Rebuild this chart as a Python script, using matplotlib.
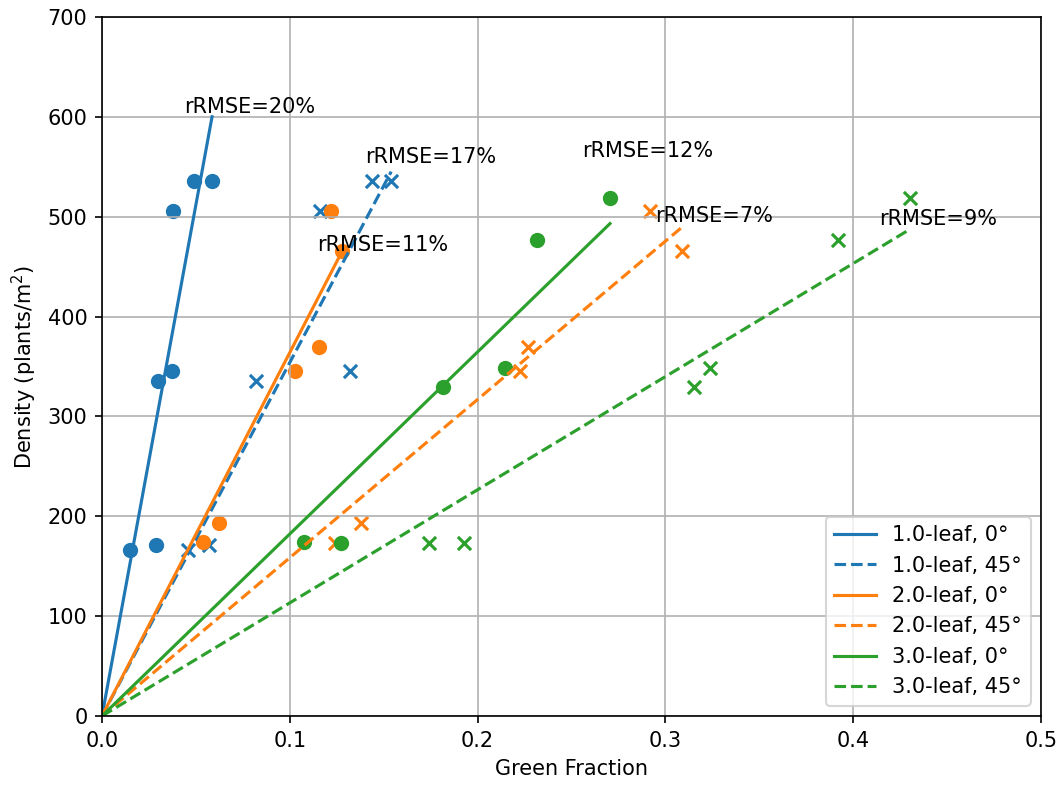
import matplotlib
matplotlib.use('Agg')
import matplotlib.pyplot as plt
import numpy as np

# green fraction / density measurements, per leaf stage and view angle
gf_1_0 = [0.0149, 0.0288, 0.0298, 0.0373, 0.0378, 0.049, 0.0586]
den_1_0 = [166, 171, 335, 345, 506, 536, 536]
gf_1_45 = [0.0458, 0.057, 0.082, 0.132, 0.116, 0.144, 0.154]
den_1_45 = [166, 171, 335, 345, 506, 536, 536]

gf_2_0 = [0.054, 0.0623, 0.103, 0.1155, 0.122, 0.128]
den_2_0 = [174, 193, 345, 370, 506, 466]
gf_2_45 = [0.124, 0.138, 0.2226, 0.227, 0.292, 0.309]
den_2_45 = [173, 193, 345, 370, 506, 466]

gf_3_0 = [0.1076, 0.127, 0.1816, 0.2146, 0.2316, 0.2705]
den_3_0 = [174, 173, 329, 348, 477, 519]
gf_3_45 = [0.174, 0.193, 0.315, 0.324, 0.392, 0.43]
den_3_45 = [173, 173, 329, 348, 477, 519]

# fitted slopes (density = k * GF), through the origin
slopes = [10240, 3540, 3640, 1585, 1823, 1133]
rmse = ['20%', '17%', '11%', '7%', '12%', '9%']
# where the rRMSE labels sit
txt_pos = [(0.0437, 604), (0.140, 554), (0.1145, 466), (0.2945, 495), (0.2556, 560), (0.414, 492)]

series = [(gf_1_0, den_1_0), (gf_1_45, den_1_45),
          (gf_2_0, den_2_0), (gf_2_45, den_2_45),
          (gf_3_0, den_3_0), (gf_3_45, den_3_45)]
labels = ['1.0-leaf, 0°', '1.0-leaf, 45°', '2.0-leaf, 0°',
          '2.0-leaf, 45°', '3.0-leaf, 0°', '3.0-leaf, 45°']
colors = ['C0', 'C0', 'C1', 'C1', 'C2', 'C2']

fig = plt.figure(figsize=(1060/150, 787/150), dpi=150)
ax = fig.add_axes([102/1060, 1-716/787, (1041-102)/1060, (716-17)/787])

for i, (gf, den) in enumerate(series):
    mk = 'o' if i % 2 == 0 else 'x'
    ls = '-' if i % 2 == 0 else '--'
    ax.scatter(gf, den, marker=mk, color=colors[i], s=40)
    xx = np.array([0, max(gf)])
    ax.plot(xx, slopes[i]*xx, ls, color=colors[i], label=labels[i])
    ax.text(txt_pos[i][0], txt_pos[i][1], 'rRMSE=' + rmse[i])

ax.set_xlim(0, 0.5)
ax.set_ylim(0, 700)
ax.set_xlabel('Green Fraction')
ax.set_ylabel('Density (plants/m$^2$)')
ax.grid(True)
ax.legend(loc='lower right')
fig.savefig('out.png', dpi=150)
